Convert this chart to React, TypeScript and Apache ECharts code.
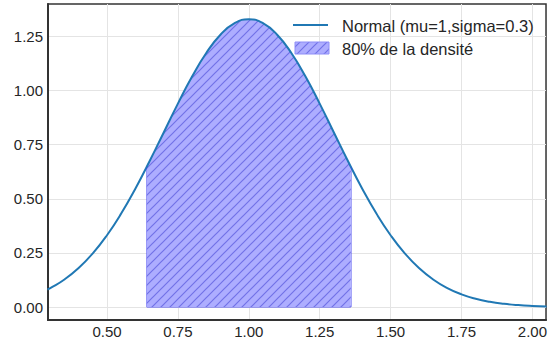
import React, { useEffect, useRef } from "react";
import * as echarts from "echarts";

// Normal density (mu=1, sigma=0.3)
const curveX = [0.29, 0.30, 0.35, 0.40, 0.45, 0.50, 0.55, 0.60, 0.65, 0.70, 0.75, 0.80, 0.85, 0.90, 0.95, 1.00,
  1.05, 1.10, 1.15, 1.20, 1.25, 1.30, 1.35, 1.40, 1.45, 1.50, 1.55, 1.60, 1.65, 1.70, 1.75, 1.80, 1.85, 1.90, 1.95, 2.00, 2.05];
const curveY = [0.0808, 0.0874, 0.1272, 0.1800, 0.2477, 0.3316, 0.4317, 0.5467, 0.6733, 0.8066, 0.9397, 1.0648, 1.1736, 1.2580, 1.3115, 1.3298,
  1.3115, 1.2580, 1.1736, 1.0648, 0.9397, 0.8066, 0.6733, 0.5467, 0.4317, 0.3316, 0.2477, 0.1800, 0.1272, 0.0874, 0.0584, 0.0380, 0.0240, 0.0148, 0.0088, 0.0051, 0.0029];

// Shaded 80% region
const fillX = [0.64, 0.65, 0.70, 0.75, 0.80, 0.85, 0.90, 0.95, 1.00, 1.05, 1.10, 1.15, 1.20, 1.25, 1.30, 1.35, 1.36];
const fillY = [0.6473, 0.6733, 0.8066, 0.9397, 1.0648, 1.1736, 1.2580, 1.3115, 1.3298, 1.3115, 1.2580, 1.1736, 1.0648, 0.9397, 0.8066, 0.6733, 0.6473];

const xTicks = [0.5, 0.75, 1.0, 1.25, 1.5, 1.75, 2.0];
const yTicks = [0, 0.25, 0.5, 0.75, 1.0, 1.25];

const legendLabels = ["Normal (mu=1,sigma=0.3)", "80% de la densité"];

const hatchSvg =
  '<svg xmlns="http://www.w3.org/2000/svg" width="9" height="9">' +
  '<rect width="9" height="9" fill="#adadff"/>' +
  '<path d="M-1,10 L10,-1 M-1,1 L1,-1 M8,10 L10,8" stroke="#7171e8" stroke-width="1.2"/>' +
  "</svg>";
const hatchUrl = "data:image/svg+xml;charset=utf-8," + encodeURIComponent(hatchSvg);

export default function App() {
  const ref = useRef<HTMLDivElement>(null);
  useEffect(() => {
    if (!ref.current) return;
    const chart = echarts.init(ref.current, null, { renderer: "svg" });
    const pattern: any = { image: hatchUrl, repeat: "repeat", imageWidth: 9, imageHeight: 9 };
    const font = "'Liberation Sans', Arial, sans-serif";
    const n = fillX.length - 1;
    chart.setOption({
      animation: false,
      backgroundColor: "#ffffff",
      grid: { left: 48, right: 1, top: 4, bottom: 25, show: true, borderColor: "#333333", borderWidth: 1.5, backgroundColor: "transparent" },
      xAxis: {
        type: "value",
        min: 0.292,
        max: 2.048,
        axisLine: { show: true, onZero: false, lineStyle: { color: "#333333", width: 2 } },
        axisTick: { show: false, customValues: xTicks },
        axisLabel: {
          customValues: xTicks,
          color: "#262626",
          fontSize: 15,
          fontFamily: font,
          margin: 4,
          formatter: (v: number) => v.toFixed(2),
        },
        splitLine: { show: true, lineStyle: { color: "#e4e4e4", width: 1 } },
      },
      yAxis: {
        type: "value",
        min: -0.06,
        max: 1.4,
        axisLine: { show: true, onZero: false, lineStyle: { color: "#333333", width: 2 } },
        axisTick: { show: false, customValues: yTicks },
        axisLabel: {
          customValues: yTicks,
          color: "#262626",
          fontSize: 15,
          fontFamily: font,
          margin: 5,
          formatter: (v: number) => v.toFixed(2),
        },
        splitLine: { show: true, lineStyle: { color: "#e4e4e4", width: 1 } },
      },
      series: [
        {
          name: legendLabels[1],
          type: "line",
          data: fillX.map((x, i) => [x, fillY[i]]),
          smooth: true,
          symbol: "none",
          lineStyle: { width: 0 },
          areaStyle: { color: pattern, opacity: 1 },
          z: 2,
          markLine: {
            silent: true,
            symbol: "none",
            label: { show: false },
            lineStyle: { color: "rgba(60,60,240,0.45)", width: 1, type: "solid" },
            data: [
              [{ coord: [fillX[0], 0] }, { coord: [fillX[n], 0] }],
              [{ coord: [fillX[0], 0] }, { coord: [fillX[0], fillY[0]] }],
              [{ coord: [fillX[n], 0] }, { coord: [fillX[n], fillY[n]] }],
            ],
          },
        },
        {
          name: legendLabels[0],
          type: "line",
          data: curveX.map((x, i) => [x, curveY[i]]),
          smooth: true,
          symbol: "none",
          lineStyle: { color: "#2078b4", width: 2 },
          z: 3,
        },
      ],
      graphic: [
        { type: "line", shape: { x1: 293, y1: 25, x2: 328, y2: 25 }, style: { stroke: "#2078b4", lineWidth: 2 }, z: 10 },
        { type: "text", x: 342, y: 26, style: { text: legendLabels[0], fill: "#262626", font: "16.5px " + font, verticalAlign: "middle" }, z: 10 },
        { type: "rect", shape: { x: 295, y: 42, width: 34, height: 12 }, style: { fill: pattern, stroke: "#8e8ef8", lineWidth: 1 }, z: 10 },
        { type: "text", x: 342, y: 48.5, style: { text: legendLabels[1], fill: "#262626", font: "16.5px " + font, verticalAlign: "middle" }, z: 10 },
      ],
    });
    return () => chart.dispose();
  }, []);
  return <div ref={ref} style={{ width: 550, height: 345, position: "absolute", left: 0, top: 0 }} />;
}
